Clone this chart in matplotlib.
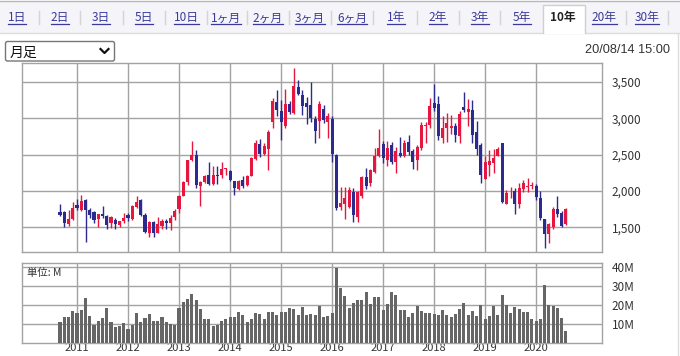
import numpy as np
import pandas as pd
import matplotlib
matplotlib.use('Agg')
import matplotlib.pyplot as plt
from matplotlib.patches import Rectangle, FancyBboxPatch

plt.rcParams['font.family'] = ['Noto Sans CJK JP', 'DejaVu Sans']

# monthly bars, Sep 2010 - Aug 2020
months = pd.period_range('2010-09', periods=120, freq='M')

opens = [1706, 1710, 1542, 1612, 1813, 1734, 1869, 1743, 1710, 1612,
         1687, 1650, 1556, 1603, 1533, 1580, 1664, 1612, 1776, 1869,
         1673, 1426, 1570, 1426, 1518, 1587, 1555, 1638, 1749, 1933,
         2117, 2422, 2491, 2062, 2117, 2223, 2099, 2223, 2223, 2300,
         2279, 2140, 2025, 2145, 2085, 2210, 2440, 2649, 2511, 2580,
         2951, 3219, 3104, 2896, 3196, 3071, 3431, 3316, 3210, 3187,
         2988, 2956, 3127, 2951, 2993, 2490, 1780, 1827, 1780, 1988,
         1642, 1928, 2195, 2112, 2265, 2481, 2642, 2426, 2629, 2403,
         2527, 2481, 2680, 2555, 2426, 2587, 2895, 2901, 3209, 3200,
         2726, 2864, 2864, 2887, 2758, 3154, 3085, 3108, 2804, 2633,
         2163, 2357, 2380, 2481, 2666, 1827, 1995, 2002, 1817, 2020,
         2048, 2071, 2071, 1905, 1619, 1402, 1504, 1748, 1702, 1540]
highs = [1827, 1720, 1743, 1846, 1883, 1944, 1883, 1767, 1720, 1687,
         1790, 1673, 1660, 1626, 1580, 1697, 1697, 1813, 1930, 1883,
         1697, 1580, 1580, 1640, 1610, 1615, 1670, 1749, 1947, 2131,
         2431, 2684, 2570, 2131, 2223, 2394, 2348, 2348, 2394, 2316,
         2293, 2140, 2145, 2210, 2223, 2468, 2707, 2713, 2658, 2833,
         3279, 3394, 3256, 3403, 3233, 3694, 3523, 3394, 3288, 3500,
         3025, 3233, 3187, 3071, 3025, 2509, 2060, 2057, 2057, 2034,
         2000, 2200, 2310, 2300, 2586, 2850, 2693, 2693, 2670, 2600,
         2739, 2700, 2772, 2580, 2630, 2955, 2955, 3279, 3477, 3300,
         3025, 3071, 3050, 2934, 3094, 3357, 3270, 3256, 2956, 2656,
         2481, 2560, 2573, 2610, 2666, 2011, 2057, 2034, 2112, 2149,
         2177, 2126, 2094, 2002, 1619, 1560, 1780, 1928, 1725, 1771]
lows = [1660, 1500, 1519, 1603, 1743, 1720, 1300, 1626, 1556, 1500,
        1626, 1472, 1486, 1472, 1510, 1556, 1580, 1603, 1767, 1650,
        1426, 1370, 1360, 1416, 1472, 1472, 1463, 1601, 1693, 1924,
        2085, 2408, 2039, 1795, 2108, 2085, 2085, 2094, 2177, 2223,
        2131, 1947, 2007, 2039, 2071, 2200, 2431, 2465, 2490, 2290,
        2865, 3026, 2695, 2865, 3063, 3060, 3325, 3050, 2924, 2950,
        2666, 2726, 2933, 2726, 2394, 1740, 1735, 1620, 1760, 1573,
        1573, 1900, 2020, 2066, 2240, 2460, 2380, 2344, 2370, 2250,
        2460, 2460, 2500, 2302, 2288, 2570, 2660, 2862, 3100, 2700,
        2657, 2680, 2790, 2680, 2666, 3080, 2900, 2657, 2495, 2112,
        2158, 2200, 2250, 2480, 1840, 1827, 1900, 1680, 1771, 1988,
        1988, 2020, 1873, 1596, 1210, 1288, 1480, 1642, 1500, 1527]
closes = [1664, 1556, 1612, 1767, 1767, 1860, 1734, 1664, 1603, 1687,
          1650, 1533, 1640, 1542, 1580, 1626, 1626, 1790, 1846, 1664,
          1440, 1566, 1426, 1542, 1592, 1555, 1633, 1730, 1933, 2117,
          2422, 2500, 2085, 2117, 2210, 2099, 2223, 2200, 2302, 2310,
          2154, 2039, 2131, 2071, 2210, 2454, 2661, 2511, 2621, 2815,
          3242, 3117, 2942, 3196, 3080, 3449, 3339, 3163, 3159, 3003,
          2818, 3196, 2979, 3034, 2509, 1771, 1840, 1896, 2011, 1665,
          1988, 2186, 2066, 2288, 2481, 2587, 2458, 2587, 2403, 2555,
          2481, 2666, 2541, 2394, 2601, 2901, 2905, 3163, 3140, 2749,
          2864, 2933, 2890, 2772, 3062, 3108, 3127, 2772, 2573, 2218,
          2394, 2417, 2449, 2573, 1850, 1965, 2000, 1817, 2034, 2103,
          2071, 2075, 1919, 1633, 1412, 1550, 1748, 1688, 1513, 1748]
volume_m = [10.9, 13.6, 13.6, 16.8, 15.7, 17.3, 23.8, 14.1, 9.5, 11.4,
            13.0, 18.4, 10.9, 8.4, 8.9, 10.4, 7.1, 9.5, 15.7, 10.9,
            13.0, 15.2, 11.4, 11.4, 13.6, 10.9, 9.8, 9.5, 18.4, 21.6,
            23.2, 25.9, 22.7, 17.9, 12.5, 12.5, 8.9, 9.5, 11.4, 12.5,
            13.6, 13.6, 16.3, 14.6, 10.9, 12.5, 15.7, 15.2, 12.5, 16.3,
            16.3, 14.6, 16.3, 16.3, 18.4, 17.9, 14.6, 18.9, 14.6, 15.2,
            14.6, 19.5, 13.6, 14.1, 15.7, 39.3, 29.1, 24.8, 18.4, 21.1,
            22.7, 22.7, 27.0, 20.5, 24.3, 24.3, 17.3, 20.5, 27.0, 25.4,
            17.3, 17.3, 13.6, 15.7, 19.5, 16.8, 15.7, 15.7, 15.2, 14.6,
            17.3, 14.6, 13.6, 15.2, 17.9, 21.1, 14.6, 16.8, 14.1, 20.0,
            12.5, 14.1, 19.5, 14.6, 25.4, 20.0, 15.7, 18.9, 17.9, 16.3,
            16.3, 12.5, 11.4, 12.5, 30.7, 20.0, 19.5, 18.4, 13.0, 6.1]

tabs = ['1日', '2日', '3日', '5日', '10日', '1ヶ月', '2ヶ月', '3ヶ月', '6ヶ月',
        '1年', '2年', '3年', '5年', '10年', '20年', '30年']
selected = '10年'
price_ticks = [1500, 2000, 2500, 3000, 3500]
volume_ticks = [10, 20, 30, 40]
period_label = '月足'
stamp = '20/08/14 15:00'
unit_label = '単位: M'

UP = '#e5173f'
DOWN = '#2b2a8e'
GRID = '#a3a3a3'
LINK = '#3b3a9c'
W, H = 680, 356

fig = plt.figure(figsize=(W / 100, H / 100), dpi=100)
bg = fig.add_axes([0, 0, 1, 1])
bg.set_xlim(0, W)
bg.set_ylim(H, 0)
bg.axis('off')


def px_axes(left, top, right, bottom):
    return fig.add_axes([left / W, 1 - bottom / H, (right - left) / W, (bottom - top) / H])


# tab bar
bg.add_patch(Rectangle((0, 1.5), W, 31, facecolor='#f4f4f9', edgecolor='none'))
bg.plot([0, W], [1.2, 1.2], color='#b8b8b8', lw=1)
bg.plot([0, W], [32.5, 32.5], color='#dcdcdc', lw=1)
bg.add_patch(Rectangle((543, 4.5), 41.5, 29, facecolor='white', edgecolor='none', zorder=2))
bg.plot([543, 543, 584.5, 584.5], [33, 4.5, 4.5, 33], color='#d0d0d0', lw=1, zorder=3)
bg.plot([677.5, 677.5], [33, H], color='#dcdcdc', lw=1)

tab_x = [17, 60, 101, 144, 186, 226, 268, 310, 352, 396, 438, 480, 522, 563, 604, 647]
sep_x = [39, 80, 123, 165, 207, 247, 289, 331, 373, 417, 459, 500, 626, 668]
for sx in sep_x:
    bg.plot([sx, sx], [11, 24], color='#d4d4d4', lw=1)

tab_texts = []
for label, tx in zip(tabs, tab_x):
    if label == selected:
        bg.text(tx, 18, label, ha='center', va='center', fontsize=8.5,
                fontweight='bold', color='#222222', zorder=4)
    else:
        t = bg.text(tx, 18, label, ha='center', va='center', fontsize=8.5, color=LINK)
        tab_texts.append(t)

# period dropdown and timestamp
bg.add_patch(FancyBboxPatch((5.5, 41.5), 109, 19.5, boxstyle='round,pad=0,rounding_size=2',
                            facecolor='white', edgecolor='#767676', lw=1))
bg.text(9.5, 53, period_label, ha='left', va='center', fontsize=10, color='#111111')
bg.plot([100.5, 104.5, 108.5], [49, 53, 49], color='#111111', lw=1.6)
bg.text(670, 50, stamp, ha='right', va='center', fontsize=9.2, color='#333333',
        family=['Liberation Sans', 'DejaVu Sans'])

x = np.arange(len(months))
o = np.array(opens, dtype=float)
h = np.array(highs, dtype=float)
l = np.array(lows, dtype=float)
c = np.array(closes, dtype=float)
colors = np.where(c >= o, UP, DOWN)
jan = [k for k, m in enumerate(months) if m.month == 1]
years = [str(months[k].year) for k in jan]
xlim = (-8.94, 127.5)

# price panel
ax = px_axes(22, 63, 602, 252)
ax.vlines(x, l, h, colors=colors, lw=1, zorder=3)
ax.bar(x, np.maximum(np.abs(c - o), 10), bottom=np.minimum(o, c), width=0.72,
       color=colors, zorder=4)
ax.set_xlim(*xlim)
ax.set_ylim(1160, 3760)
ax.set_xticks(jan)
ax.set_xticklabels([])
ax.set_yticks(price_ticks)
ax.set_yticklabels([f'{v:,}' for v in price_ticks])

# volume panel
axv = px_axes(22, 263, 602, 342.5)
axv.bar(x, volume_m, width=0.72, color='#666666', zorder=3)
axv.set_xlim(*xlim)
axv.set_ylim(0, 42.1)
axv.set_xticks(jan)
axv.set_xticklabels(years)
axv.set_yticks(volume_ticks)
axv.set_yticklabels([f'{v}M' for v in volume_ticks])
axv.text(0.009, 0.88, unit_label, transform=axv.transAxes, ha='left', va='center',
         fontsize=7.5, color='#333333')

for a in (ax, axv):
    a.grid(True, color=GRID, lw=1)
    a.set_axisbelow(True)
    for s in a.spines.values():
        s.set_color(GRID)
        s.set_linewidth(1)
    a.yaxis.tick_right()
    a.tick_params(axis='y', length=0, pad=7, labelsize=8.5, labelcolor='#333333')
    a.tick_params(axis='x', length=0, pad=0.5, labelsize=8, labelcolor='#333333')

# underline the tab links
fig.canvas.draw()
renderer = fig.canvas.get_renderer()
inv = bg.transData.inverted()
for t in tab_texts:
    bb = t.get_window_extent(renderer)
    (x0, _), (x1, _) = inv.transform([(bb.x0, 0), (bb.x1, 0)])
    bg.plot([x0, x1], [24, 24], color=LINK, lw=0.9)

fig.savefig('out.png', dpi=100)
